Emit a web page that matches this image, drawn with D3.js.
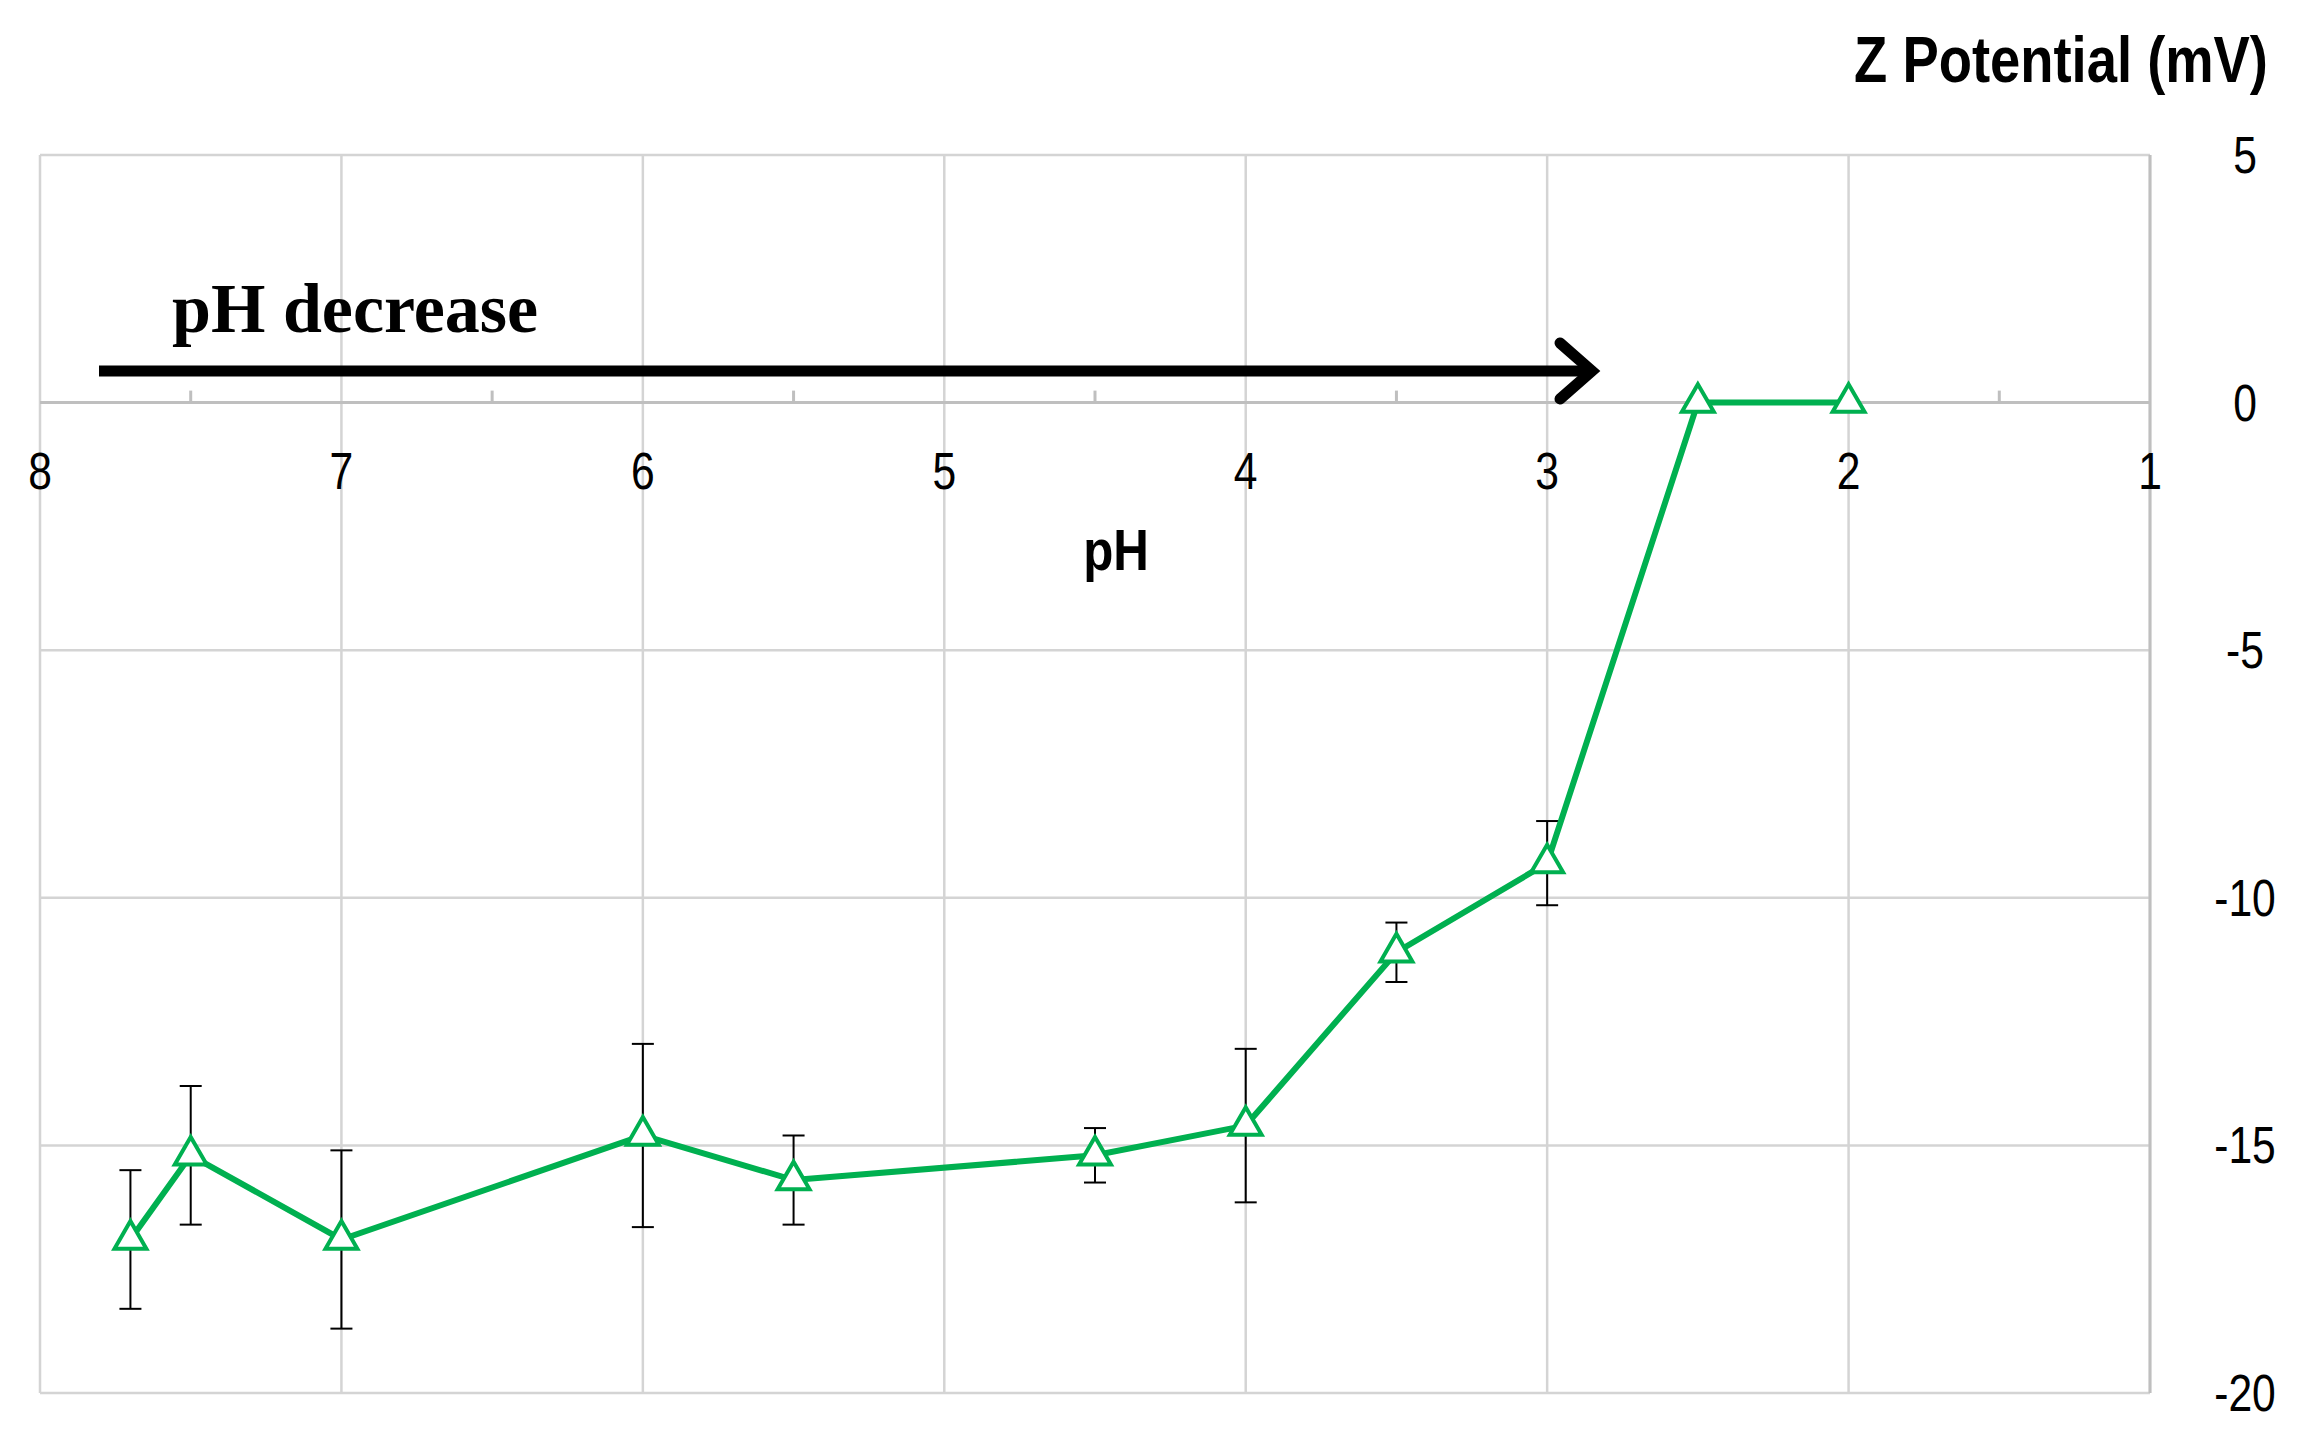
<!DOCTYPE html>
<html><head><meta charset="utf-8">
<script src="https://cdn.jsdelivr.net/npm/d3@7"></script>
<style>body{margin:0;background:#fff}</style></head>
<body><svg id="c" width="2299" height="1455"></svg>
<script>
const phValues = [7.7, 7.5, 7.0, 6.0, 5.5, 4.5, 4.0, 3.5, 3.0, 2.5, 2.0];
const zeta     = [-16.9, -15.2, -16.9, -14.8, -15.7, -15.2, -14.6, -11.1, -9.3, 0, 0];
const errors   = [1.4, 1.4, 1.8, 1.85, 0.9, 0.55, 1.55, 0.6, 0.85, 0, 0];
const xTicks = [8, 7, 6, 5, 4, 3, 2, 1];
const yTicks = [5, 0, -5, -10, -15, -20];

const svg = d3.select("#c");
const x = d3.scaleLinear().domain([8, 1]).range([40, 2150]);
const y = d3.scaleLinear().domain([5, -20]).range([155, 1393]);
const grid = "#d4d4d4";

svg.append("g").selectAll("line").data(xTicks).join("line")
  .attr("x1", d => x(d)).attr("x2", d => x(d)).attr("y1", y(5)).attr("y2", y(-20))
  .attr("stroke", grid).attr("stroke-width", 2.5);
svg.append("g").selectAll("line").data(yTicks).join("line")
  .attr("x1", x(8)).attr("x2", x(1)).attr("y1", d => y(d)).attr("y2", d => y(d))
  .attr("stroke", grid).attr("stroke-width", 2.5);
svg.append("line").attr("x1", x(1)).attr("x2", x(1)).attr("y1", y(5)).attr("y2", y(-20))
  .attr("stroke", "#bfbfbf").attr("stroke-width", 3);

const xa = svg.append("g").attr("transform", `translate(0,${y(0)})`);
xa.append("line").attr("x1", x(8)).attr("x2", x(1)).attr("stroke", "#bfbfbf").attr("stroke-width", 3);
xa.selectAll(".mt").data(d3.range(7.5, 1, -1)).join("line")
  .attr("x1", d => x(d)).attr("x2", d => x(d)).attr("y1", 0).attr("y2", -12)
  .attr("stroke", "#bfbfbf").attr("stroke-width", 3);
xa.selectAll("text").data(xTicks).join("text")
  .attr("x", d => x(d)).attr("y", 86).attr("text-anchor", "middle")
  .attr("font-family", "Liberation Sans, Arial").attr("font-size", 52).attr("fill", "#000")
  .attr("transform", d => `translate(${x(d)},0) scale(0.82,1) translate(${-x(d)},0)`)
  .text(d => d);

svg.append("g").selectAll("text").data(yTicks).join("text")
  .attr("x", 2245).attr("y", d => y(d) + 18).attr("text-anchor", "middle")
  .attr("font-family", "Liberation Sans, Arial").attr("font-size", 52)
  .attr("transform", "translate(2245,0) scale(0.82,1) translate(-2245,0)")
  .text(d => d);

svg.append("text").attr("x", 1116).attr("y", 570).attr("text-anchor", "middle")
  .attr("font-family", "Liberation Sans, Arial").attr("font-weight", "bold").attr("font-size", 58)
  .attr("transform", "translate(1116,0) scale(0.85,1) translate(-1116,0)").text("pH");
svg.append("text").attr("x", 2268).attr("y", 82).attr("text-anchor", "end")
  .attr("font-family", "Liberation Sans, Arial").attr("font-weight", "bold").attr("font-size", 64)
  .attr("transform", "translate(2268,0) scale(0.85,1) translate(-2268,0)").text("Z Potential (mV)");

svg.append("line").attr("x1", 99).attr("x2", 1590).attr("y1", 371).attr("y2", 371)
  .attr("stroke", "#000").attr("stroke-width", 11);
svg.append("path").attr("d", "M1560,343 L1592,371 L1560,399").attr("fill", "none")
  .attr("stroke", "#000").attr("stroke-width", 11).attr("stroke-linecap", "round");
svg.append("text").attr("x", 172).attr("y", 332)
  .attr("font-family", "Liberation Serif, serif").attr("font-weight", "bold").attr("font-size", 70)
  .text("pH decrease");

const data = phValues.map((p, i) => ({p, v: zeta[i], e: errors[i]}));
const eb = svg.append("g").attr("stroke", "#000").attr("stroke-width", 2);
data.filter(d => d.e > 0).forEach(d => {
  eb.append("line").attr("x1", x(d.p)).attr("x2", x(d.p)).attr("y1", y(d.v + d.e)).attr("y2", y(d.v - d.e));
  eb.append("line").attr("x1", x(d.p) - 11).attr("x2", x(d.p) + 11).attr("y1", y(d.v + d.e)).attr("y2", y(d.v + d.e));
  eb.append("line").attr("x1", x(d.p) - 11).attr("x2", x(d.p) + 11).attr("y1", y(d.v - d.e)).attr("y2", y(d.v - d.e));
});
svg.append("path").datum(data)
  .attr("d", d3.line().x(d => x(d.p)).y(d => y(d.v)))
  .attr("fill", "none").attr("stroke", "#00b050").attr("stroke-width", 6);
svg.append("g").selectAll("path").data(data).join("path")
  .attr("transform", d => `translate(${x(d.p)},${y(d.v)})`)
  .attr("d", d3.symbol(d3.symbolTriangle, 440))
  .attr("fill", "#fff").attr("stroke", "#00b050").attr("stroke-width", 4);
</script></body></html>
